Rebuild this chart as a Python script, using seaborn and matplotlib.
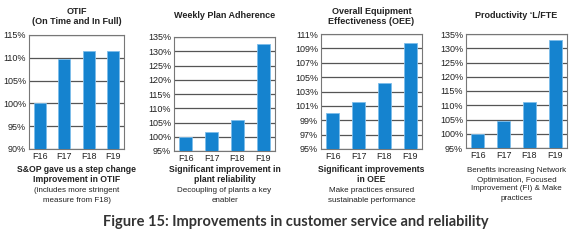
import matplotlib
matplotlib.use("Agg")
import pandas as pd
import seaborn as sns
import matplotlib.pyplot as plt

# data
years = ["F16", "F17", "F18", "F19"]
otif = [100.0, 109.7, 111.4, 111.4]
plan_adherence = [100.0, 101.7, 105.8, 132.5]
oee = [100.0, 101.6, 104.2, 109.8]
productivity = [100.0, 104.5, 111.0, 133.0]

titles = [["OTIF", "(On Time and In Full)"], ["Weekly Plan Adherence"],
          ["Overall Equipment", "Effectiveness (OEE)"], ["Productivity \u2018L/FTE"]]
headlines = [["S&OP gave us a step change", "Improvement in OTIF"],
             ["Significant improvement in", "plant reliability"],
             ["Significant improvements", "in OEE"], []]
notes = [["(includes more stringent", "measure from F18)"],
         ["Decoupling of plants a key", "enabler"],
         ["Make practices ensured", "sustainable performance"],
         ["Benefits increasing Network", "Optimisation, Focused",
          "Improvement (FI) & Make", "practices"]]
y_ticks = [list(range(90, 116, 5)), list(range(95, 136, 5)),
           list(range(95, 112, 2)), list(range(95, 136, 5))]
caption = "Figure 15: Improvements in customer service and reliability"

series = [otif, plan_adherence, oee, productivity]

sns.set_style("white")
plt.rcParams["font.family"] = ["Liberation Sans Narrow", "Liberation Sans", "DejaVu Sans"]

W, H = 580, 241
fig = plt.figure(figsize=(W / 100, H / 100), dpi=100)

# axes boxes in pixels: left, top, right, bottom
boxes = [(29, 35, 124, 149), (174, 37, 275, 151),
         (321, 34, 422, 149), (466, 34, 567, 148)]

bar_color = "#1583cf"
text_col = "#222222"


def put_lines(x, ys, lines, **kw):
    for y, s in zip(ys, lines):
        fig.text(x, 1 - y / H, s, ha="center", va="center", color=text_col, **kw)


for i, (vals, box) in enumerate(zip(series, boxes)):
    l, t, r, b = box
    ax = fig.add_axes([l / W, 1 - b / H, (r - l) / W, (b - t) / H])
    df = pd.DataFrame({"year": years, "value": vals})
    sns.barplot(data=df, x="year", y="value", ax=ax, color=bar_color,
                width=0.5, edgecolor="#7dbdea", linewidth=0.6, saturation=1,
                zorder=3)
    ticks = y_ticks[i]
    ax.set_ylim(ticks[0], ticks[-1])
    ax.set_yticks(ticks)
    ax.set_yticklabels([f"{v}%" for v in ticks])
    ax.set_xlim(-0.45, 3.45)
    ax.grid(axis="y", color="#555555", linewidth=0.9, zorder=0)
    ax.set_axisbelow(True)
    ax.set_xlabel("")
    ax.set_ylabel("")
    for s in ax.spines.values():
        s.set_color("#777777")
        s.set_linewidth(0.8)
    ax.tick_params(axis="both", labelsize=6.5, colors=text_col, length=0, pad=2)

    cx = (l + r) / 2 / W
    ty = [11, 22] if len(titles[i]) == 2 else [16]
    put_lines(cx, ty, titles[i], fontsize=6.5, fontweight="bold")
    if headlines[i]:
        put_lines(cx, [170, 180], headlines[i], fontsize=6.2, fontweight="bold")
        put_lines(cx, [191, 200], notes[i], fontsize=5.8)
    else:
        put_lines(cx, [171, 180, 189, 198], notes[i], fontsize=5.8)

fig.text(296 / W, 1 - 222 / H, caption, ha="center", va="center",
         fontsize=10.5, fontweight="bold", color="#333333",
         family=["Lato", "DejaVu Sans"])

fig.savefig("out.png", dpi=100)
